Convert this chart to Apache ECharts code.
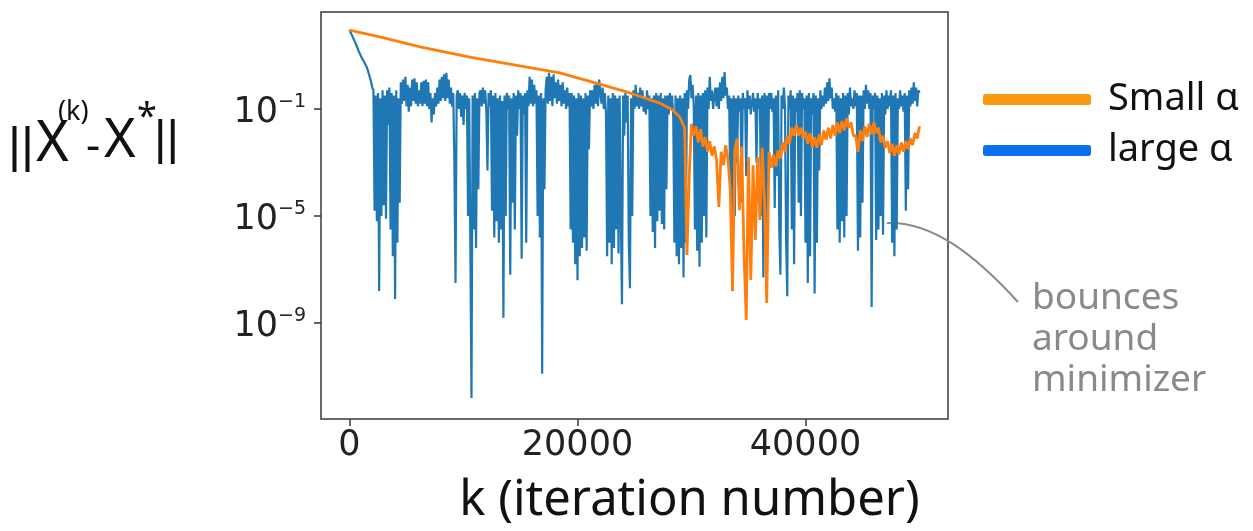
<!DOCTYPE html>
<html>
<head>
<meta charset="utf-8">
<script src="https://cdn.jsdelivr.net/npm/echarts@6/dist/echarts.min.js"></script>
<style>
html,body{margin:0;padding:0;background:#fff;}
#chart{width:1253px;height:531px;}
</style>
</head>
<body>
<div id="chart"></div>
<script>
// ---- data (values stored as log10 of ||x(k) - x*||) ----
const iterStep = 100; // large-alpha curve read every 100 iterations, k = 0 .. 50000
const largeAlphaLog10 = [
  // descent
  1.95, 1.86, 1.77, 1.68, 1.58, 1.49, 1.39, 1.28, 1.17, 1.08, 0.98, 0.9, 0.83, 0.75, 0.68, 0.57, 0.46, 0.31, 0.16, 0.0, -0.21,
  // A1
  -0.3, -4.8, -0.5, -5.2, -0.4, -7.8, -0.6, -5.0, -0.3, -4.6, -0.5, -5.1,
  -0.3, -1.6, -0.2,
  // A2
  -5.5, -0.4, -6.5, -0.5, -8.1, -0.3, -6.0, -0.6, -4.5,
  // B
  0.0, -0.8, 0.1, -0.7, 0.2, -0.9, -0.1, -1.1, -0.2, -0.9,
  0.1, -0.7, 0.15, -0.8, 0.0, -0.9, -0.3, -0.8, 0.0, -0.9,
  0.05, -0.8, 0.1, -0.9, 0.0, -1.0, -0.4, -1.5, -0.6, -1.2,
  -0.4, -0.9, -0.2, -0.8, 0.1, -0.7, 0.2, -0.6, 0.3, -0.7,
  0.35, -0.6, 0.1, -0.8, -0.2, -0.9,
  // C
  -0.4, -3.0, -7.5, -0.5, -0.3, -1.0, -0.4, -1.3, -0.5, -1.6,
  -0.4, -1.0, -0.5, -5.0, -0.6, -6.0, -11.8, -0.5, -5.5, -0.4,
  -6.2, -0.6, -4.0, -0.4,
  // D
  -0.3, -0.9, -0.2, -0.8, -0.3, -1.0, -3.3, -0.4, -0.9, -0.3,
  -4.8, -0.5, -5.8, -0.4, -5.2, -0.6, -6.0, -0.5, -5.5, -0.7,
  -8.8, -0.5, -5.0, -0.4, -1.0, -0.5, -7.2, -0.6, -4.5, -0.4,
  -5.5, -0.5, -2.0, -0.3, -1.0,
  // E
  -0.4, -6.6, -0.5, -1.2, -0.4, -6.0, -0.3, -0.9, 0.2, -0.8,
  0.1, -0.9, -0.1, -0.8, -0.3, -5.0, -0.5, -5.8, -0.4, -10.9,
  -0.6, -4.0, -0.3, 0.2, -0.8, 0.35, -0.7, 0.2, -0.9, 0.3,
  -0.6, 0.0, -0.8, 0.1, -0.7, -0.1, -0.9, 0.0, -0.8, -0.3,
  -1.0, -0.2, -0.9, -0.4,
  // F
  -5.5, -0.4, -6.0, -0.5, -6.8, -0.6, -7.4, -0.4, -6.5, -0.5,
  -6.2, -0.6, -5.8, -0.4, -6.3, -0.5, -2.5, -0.3,
  // G
  -0.9, -0.3, -1.0, -0.1, -0.8, 0.0, -0.9, 0.1, 0.15, -0.8, -0.2, -1.0, -0.4, -1.2,
  // H
  -6.5, -0.5, -6.0, -0.6, -6.8, -0.4, -6.2, -0.5, -5.5, -0.6,
  -6.4, -0.5, -5.0, -8.3, -0.5, -2.0, -0.4, -1.5, -0.5, -6.0,
  -7.7, -0.6, -5.0,
  // I
  -0.3, -1.0, -0.1, -0.9, -0.4, -1.0, -0.2, -0.9, -0.3, -1.1, -0.6, -1.2, -0.3, -1.0, -0.5,
  // J
  -5.0, -0.6, -5.6, -0.5, -6.2, -0.4, -5.2, -0.5, -4.8, -0.4, -5.3, -0.6, -5.5, -0.5, -4.0, -0.5,
  // K
  -1.2, -0.4, -1.0, -0.5, -1.3, -6.0, -0.5, -6.5, -0.6, -6.8, -0.5, -6.2, -0.6, -7.3, -0.4, -6.0, -0.3, -1.0,
  // L
  0.1, 0.27, -0.6, -0.1, -0.9, -5.5, -0.5, -6.3, -0.4, -6.9,
  -0.5, -6.0, -0.4, -5.0, -0.3, -5.8, -0.2, -1.0, 0.2, -0.7,
  -0.3, -1.0, -0.5,
  // M
  -0.2, -0.9, -0.2, -1.0, 0.0, -0.7, 0.2, -0.6, 0.38, -0.5,
  -0.2, -1.0, -0.5, -4.0, -0.6, -7.8, -0.5, -5.0, -0.6, -3.0,
  -0.5, -1.1, -0.6,
  // N
  -4.5, -0.4, -1.0, -0.6, -3.5, -0.3, -1.0, -0.5, -1.2, -0.8,
  -0.4, -1.1, -0.6, -3.0, -0.4, -1.0, -0.6, -5.0, -0.5, -7.3,
  -0.4, -6.0, -0.5, -4.0, -0.4,
  // O
  -1.0, -0.4, -1.1, -0.6, -4.7, -0.5, -3.5, -0.3, -5.5, -7.2,
  -0.5, -1.0, -0.2, -0.9, -6.0, -8.0, -0.5, -1.0, -0.3, -5.5,
  -0.5, -6.8, -0.6, -1.1, -0.4, -4.5, -0.3, -5.0, -0.4, -1.0,
  -0.6, -6.0, -0.5, -7.5, -0.4, -6.5, -0.6, -1.2, -0.4, -7.9,
  -0.5, -6.0, -0.6, -3.3, -0.3, -1.0, -0.5, -0.9, -0.2, -0.8,
  0.0, -0.7, 0.15, -0.6, -0.2,
  // P
  -1.0, -0.6, -1.1, -0.4, -5.5, -0.5, -6.0, -0.6, -5.2, -0.4,
  -5.8, -0.5, -5.0, -0.4, -1.2, -0.2, -0.9, -0.6, -1.0, -0.3,
  -0.9, -0.4, -6.3, -0.5, -5.8, -0.5, -4.5, -0.3, -1.0, -0.1,
  -0.8, -0.3, -1.0,
  // Q
  -0.4, -8.4, -0.5, -1.0, -0.4, -5.9, -0.5, -5.5, -0.6, -5.0,
  -0.4, -5.7, -0.5, -1.2, -0.3, -1.0, -0.5, -0.9, -0.3, -6.0,
  -0.5, -6.5, -0.4, -5.5, -0.6, -1.0, -0.3, -0.9, -0.5, -1.1,
  -0.4, -4.8, -0.5, -4.0, -0.3, -0.9, -0.2, -0.8, 0.0, -0.7,
  -0.2, -0.9, -0.3, -0.4
];
// small alpha: [iteration, log10 error]
const smallAlphaPoints = [
  [0, 1.95], [3120, 1.65], [6185, 1.32], [10565, 0.94], [14945, 0.61], [18450, 0.35], [21950, -0.07],
  [24310, -0.36], [25890, -0.59], [27200, -0.78], [28350, -1.04], [28960, -1.30],
  [29400, -1.70], [29600, -6.46], [29800, -3.50], [30000, -1.55], [30200, -2.00], [30400, -1.65],
  [30600, -2.25], [30800, -1.75], [31000, -2.40], [31200, -2.05], [31400, -2.60], [31600, -2.20],
  [31800, -2.75], [32000, -2.40], [32200, -2.90], [32400, -4.66], [32600, -2.60], [32800, -3.10],
  [33000, -2.35], [33200, -2.90], [33400, -4.00], [33600, -7.77], [33800, -2.50], [34000, -2.10],
  [34200, -4.78], [34400, -2.40], [34600, -6.27], [34800, -8.89], [35000, -2.80], [35200, -7.39],
  [35400, -3.10], [35600, -5.90], [35800, -2.80], [36000, -5.15], [36200, -2.45], [36400, -4.40],
  [36600, -8.25], [36800, -2.60], [37000, -3.20], [37200, -2.70], [37400, -3.15], [37600, -2.55],
  [37800, -2.85], [38000, -2.25], [38200, -2.60], [38400, -2.00], [38600, -2.30], [38800, -1.70],
  [39000, -2.00], [39200, -1.60], [39400, -2.00], [39600, -1.70], [39800, -2.10], [40000, -1.85],
  [40200, -2.30], [40400, -1.90], [40600, -2.45], [40800, -2.05], [41000, -2.45], [41200, -1.95],
  [41400, -2.35], [41600, -1.80], [41800, -2.15], [42000, -1.70], [42200, -2.10], [42400, -1.60],
  [42600, -2.00], [42800, -1.50], [43000, -1.90], [43200, -1.45], [43400, -1.80], [43600, -1.35],
  [43800, -1.70], [44000, -1.50], [44200, -2.00], [44400, -2.00], [44600, -2.60], [44800, -1.80],
  [45000, -2.20], [45200, -1.65], [45400, -2.05], [45600, -1.55], [45800, -1.95], [46000, -1.50],
  [46200, -1.90], [46400, -1.70], [46600, -2.25], [46800, -2.00], [47000, -2.45], [47200, -2.20],
  [47400, -2.65], [47600, -2.30], [47800, -2.75], [48000, -2.35], [48200, -2.70], [48400, -2.25],
  [48600, -2.60], [48800, -2.20], [49000, -2.50], [49200, -2.10], [49400, -2.35], [49600, -1.90],
  [49800, -2.10], [50000, -1.65]
];
const xTickValues = [0, 20000, 40000];
const yTickExponents = [-9, -5, -1];       // y ticks at 10^-9, 10^-5, 10^-1
const yExtentExponents = [-12.589, 2.626];  // visible log10 range of the y axis
const seriesNames = ['Small α', 'large α'];

// ---- build (y axis is drawn in log10 space) ----
const largeData = largeAlphaLog10.map((e, i) => [i * iterStep, e]);
const smallData = smallAlphaPoints.map(p => [p[0], p[1]]);

const chart = echarts.init(document.getElementById('chart'), null, {renderer: 'canvas'});
const handFont = 'Noto Sans';
const barFont = 'Liberation Sans';
const tickFont = 'DejaVu Sans';

chart.setOption({
  animation: false,
  backgroundColor: '#ffffff',
  grid: {
    left: 321, top: 12, width: 627, height: 407,
    containLabel: false, outerBoundsMode: 'none',
    show: true, borderColor: '#3a3a3a', borderWidth: 1.5, backgroundColor: 'transparent'
  },
  legend: {
    orient: 'vertical',
    left: 978, top: 74,
    icon: 'roundRect',
    itemWidth: 108, itemHeight: 11, itemGap: 10,
    textStyle: {fontFamily: handFont, fontSize: 38, color: '#111', lineHeight: 41, padding: [0, 0, 0, 12]},
    data: [
      {name: seriesNames[0], itemStyle: {color: '#f99b12'}},
      {name: seriesNames[1], itemStyle: {color: '#0b6ff2'}}
    ]
  },
  xAxis: {
    type: 'value', min: -2500, max: 52500,
    name: 'k (iteration number)', nameLocation: 'middle', nameGap: 58,
    nameTextStyle: {fontFamily: handFont, fontSize: 49, color: '#111', padding: [0, 0, 0, 110]},
    axisLine: {show: false, onZero: false},
    splitLine: {show: false},
    axisTick: {show: true, customValues: xTickValues, length: 7, lineStyle: {color: '#333', width: 1.5}},
    axisLabel: {
      customValues: xTickValues, fontFamily: tickFont, fontSize: 35, color: '#222', margin: 9,
      formatter: function (v) { return String(v); }
    }
  },
  yAxis: {
    type: 'value',
    min: yExtentExponents[0], max: yExtentExponents[1],
    axisLine: {show: false, onZero: false},
    splitLine: {show: false},
    axisTick: {show: true, customValues: yTickExponents, length: 7, lineStyle: {color: '#333', width: 1.5}},
    axisLabel: {
      customValues: yTickExponents, margin: 15, padding: [8, 0, 0, 0],
      formatter: function (e) {
        return '{b|10}{s|' + (e < 0 ? '\u2212' : '') + Math.abs(e) + '}';
      },
      rich: {
        b: {fontFamily: tickFont, fontSize: 35, color: '#222', lineHeight: 40},
        s: {fontFamily: tickFont, fontSize: 19, color: '#222', verticalAlign: 'top', lineHeight: 22}
      }
    }
  },
  series: [
    {
      name: seriesNames[1], type: 'line', data: largeData, showSymbol: false, z: 2,
      lineStyle: {color: '#1f77b4', width: 2.2}, itemStyle: {color: '#1f77b4'}
    },
    {
      name: seriesNames[0], type: 'line', data: smallData, showSymbol: false, z: 3,
      lineStyle: {color: '#ff7f0e', width: 2.8}, itemStyle: {color: '#ff7f0e'}
    }
  ],
  graphic: [
    {type: 'text', left: 8, top: 123, style: {text: '||', fontFamily: barFont, fontSize: 50, fill: '#111'}},
    {type: 'text', left: 36, top: 117, style: {text: 'X', fontFamily: handFont, fontSize: 56, fill: '#111'}},
    {type: 'text', left: 58, top: 99, style: {text: '(k)', fontFamily: handFont, fontSize: 27, fill: '#111'}},
    {type: 'text', left: 86, top: 125, style: {text: '-', fontFamily: handFont, fontSize: 44, fill: '#111'}},
    {type: 'text', left: 104, top: 115, style: {text: 'X', fontFamily: handFont, fontSize: 54, fill: '#111'}},
    {type: 'text', left: 137, top: 100, style: {text: '*', fontFamily: handFont, fontSize: 36, fill: '#111'}},
    {type: 'text', left: 154, top: 117, style: {text: '||', fontFamily: barFont, fontSize: 48, fill: '#111'}},
    {
      type: 'bezierCurve',
      shape: {x1: 887, y1: 223, cpx1: 932, cpy1: 221, cpx2: 975, cpy2: 255, x2: 1018, y2: 302},
      style: {stroke: '#8a8a8a', lineWidth: 2, fill: null}
    },
    {
      type: 'text', left: 1032, top: 278,
      style: {text: 'bounces\naround\nminimizer', fontFamily: handFont, fontSize: 37, lineHeight: 41, fill: '#8a8a8a'}
    }
  ]
});
</script>
</body>
</html>
